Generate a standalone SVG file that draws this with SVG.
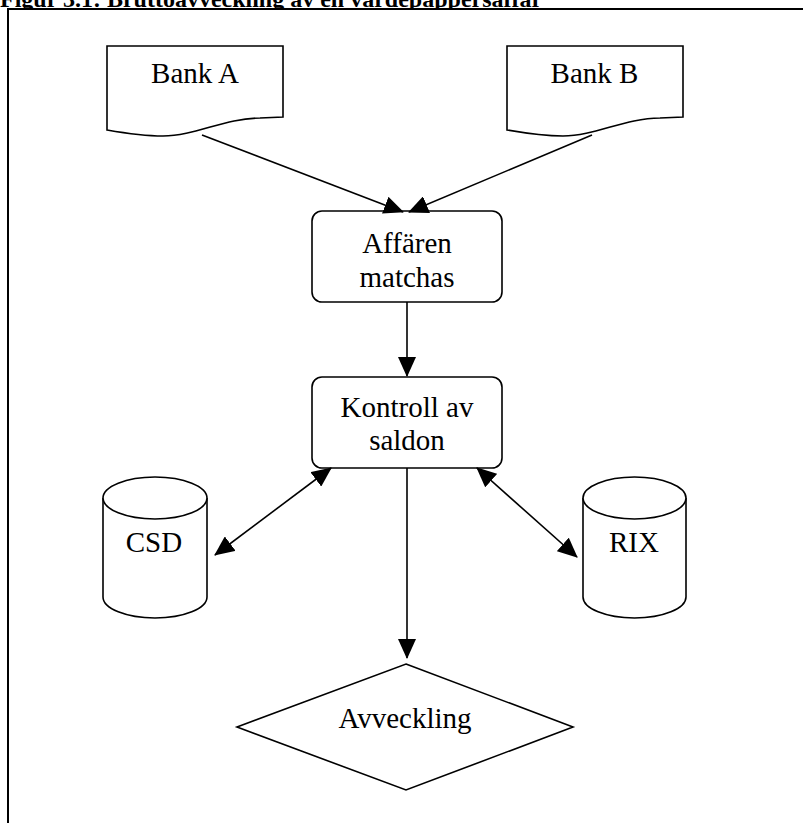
<svg xmlns="http://www.w3.org/2000/svg" width="803" height="823" viewBox="0 0 803 823">
<style>
.shape{fill:#fff;stroke:#000;stroke-width:1.6}
.lbl{font-family:"Liberation Serif","Times New Roman",serif;font-size:29px;fill:#000;text-anchor:middle}
.title{font-family:"Liberation Serif","Times New Roman",serif;font-size:24px;font-weight:bold;fill:#000}
.conn{fill:none;stroke:#000;stroke-width:1.6}
</style>
<defs>
<marker id="ah" markerUnits="userSpaceOnUse" viewBox="0 0 20 18" refX="19" refY="9" markerWidth="20" markerHeight="18" orient="auto-start-reverse">
<path d="M0,0 L20,9 L0,18 z" fill="#000"/>
</marker>
</defs>
<rect width="803" height="823" fill="#fff"/>
<text class="title" x="0" y="7">Figur 3.1: Bruttoavveckling av en värdepappersaffär</text>
<rect id="frame" x="8" y="9" width="810" height="830" fill="#fff" stroke="#000" stroke-width="2"/>
<g id="bankA">
<path class="shape" d="M107,46 H283 V117 L260,118 C225,118 195,136 163,136 C145,136 130,134 107,130 Z"/>
<text class="lbl" x="195" y="83">Bank A</text>
</g>
<g id="bankB">
<path class="shape" d="M507,46 H683 V117 L660,118 C625,118 595,136 563,136 C545,136 530,134 507,130 Z"/>
<text class="lbl" x="594.5" y="83">Bank B</text>
</g>
<g id="matchas">
<rect class="shape" x="312" y="211" width="190" height="91" rx="10" ry="10"/>
<text class="lbl" x="407" y="253">Affären</text>
<text class="lbl" x="407" y="287">matchas</text>
</g>
<g id="kontroll">
<rect class="shape" x="312" y="377" width="190" height="91" rx="10" ry="10"/>
<text class="lbl" x="407" y="417">Kontroll av</text>
<text class="lbl" x="407" y="450">saldon</text>
</g>
<g id="csd">
<path class="shape" d="M103,498 V597 A52,21 0 0 0 207,597 V498"/>
<ellipse class="shape" cx="155" cy="498" rx="52" ry="21"/>
<text class="lbl" x="154" y="552">CSD</text>
</g>
<g id="rix">
<path class="shape" d="M583,498 V597 A51.5,21 0 0 0 686,597 V498"/>
<ellipse class="shape" cx="634.5" cy="498" rx="51.5" ry="21"/>
<text class="lbl" x="634" y="552">RIX</text>
</g>
<g id="avveckling">
<polygon class="shape" points="406,664 573,727 406,790 237,727"/>
<text class="lbl" x="405" y="728">Avveckling</text>
</g>
<g id="connectors">
<line class="conn" x1="202" y1="135" x2="403" y2="212" marker-end="url(#ah)"/>
<line class="conn" x1="592" y1="135" x2="409" y2="212" marker-end="url(#ah)"/>
<line class="conn" x1="407" y1="302" x2="407" y2="376" marker-end="url(#ah)"/>
<line class="conn" x1="331" y1="468" x2="215" y2="555" marker-start="url(#ah)" marker-end="url(#ah)"/>
<line class="conn" x1="477" y1="468" x2="577" y2="557" marker-start="url(#ah)" marker-end="url(#ah)"/>
<line class="conn" x1="407" y1="468" x2="407" y2="658" marker-end="url(#ah)"/>
</g>
</svg>
